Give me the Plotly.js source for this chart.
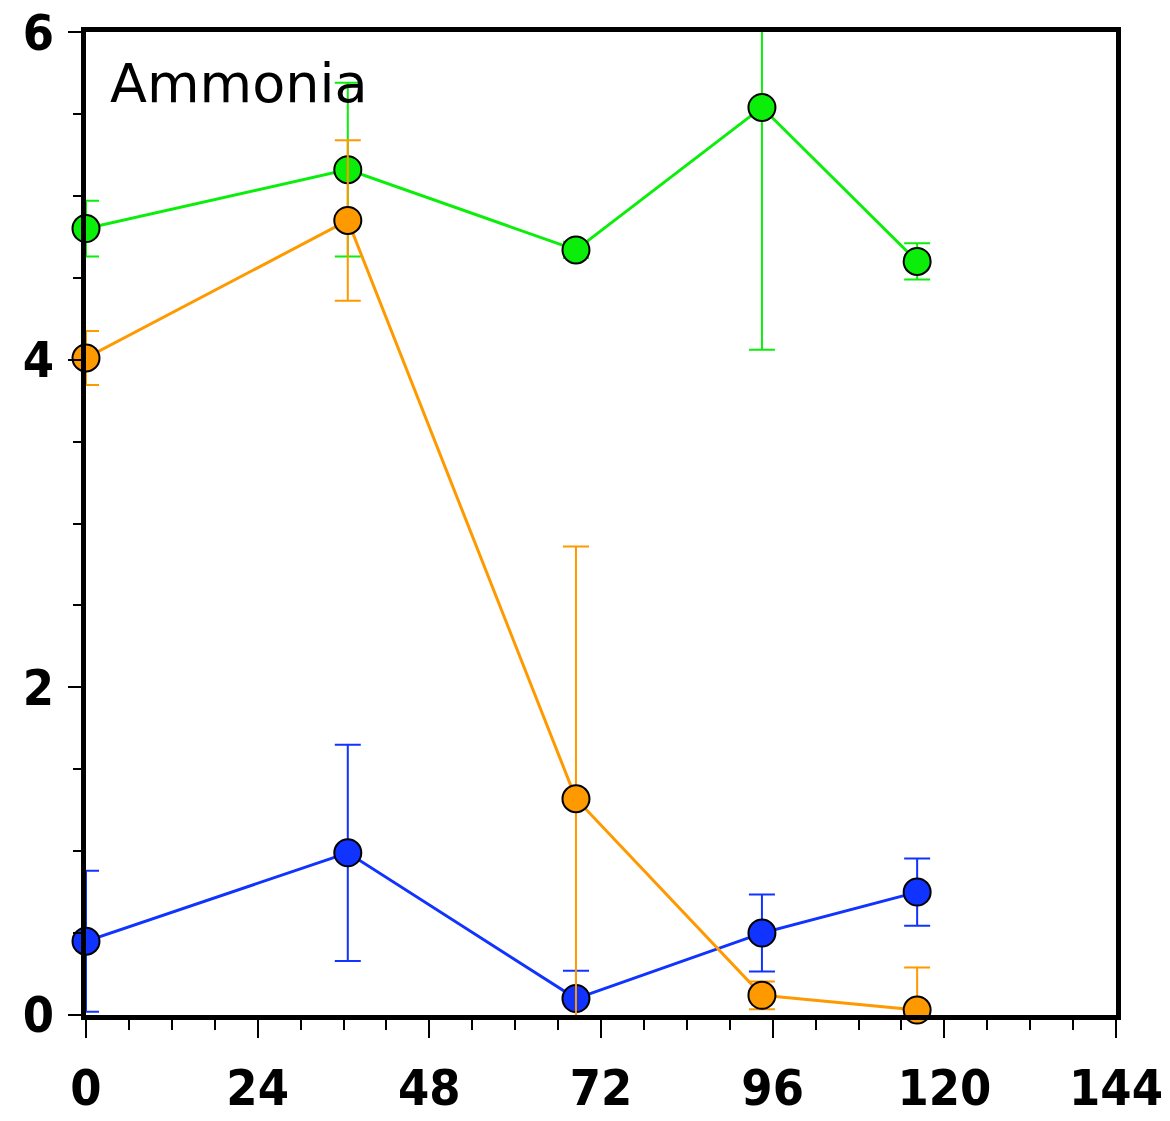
<!DOCTYPE html>
<html>
<head>
<meta charset="utf-8">
<script src="https://cdn.plot.ly/plotly-3.0.1.min.js"></script>
<style>html,body{margin:0;padding:0;background:#fff;}#chart{width:1170px;height:1121px;}</style>
</head>
<body>
<div id="chart"></div>
<script>
// Sampling times (hours)
const times = [0, 36.6, 68.5, 94.5, 116.2];

// Series values and symmetric errors
const greenValues = [4.80, 5.16, 4.67, 5.54, 4.60];
const greenErrors = [0.17, 0.53, 0.05, 1.48, 0.11];

const orangeValues = [4.01, 4.85, 1.32, 0.12, 0.03];
const orangeErrors = [0.165, 0.49, 1.54, 0.085, 0.26];

const blueValues = [0.45, 0.99, 0.10, 0.50, 0.75];
const blueErrors = [0.43, 0.66, 0.17, 0.235, 0.205];

const xTickValues = [0, 24, 48, 72, 96, 120, 144];
const yTickValues = [0, 2, 4, 6];
const panelLabel = "Ammonia";

function series(y, err, color) {
  return {
    x: times, y: y, type: 'scatter', mode: 'lines+markers',
    cliponaxis: false,
    line: {color: color, width: 3},
    marker: {size: 27, color: color, line: {color: '#000', width: 2}},
    error_y: {type: 'data', array: err, visible: true, color: color, thickness: 2, width: 13},
    showlegend: false, hoverinfo: 'x+y'
  };
}

const data = [
  series(greenValues, greenErrors, '#0aee0a'),
  series(blueValues, blueErrors, '#1133ff'),
  series(orangeValues, orangeErrors, '#ff9900')
];

const tickFont = {family: '"DejaVu Sans Condensed", "Liberation Sans Narrow", sans-serif', size: 50, weight: 'bold', color: '#000'};

const layout = {
  width: 1170, height: 1121,
  margin: {l: 86, r: 54, t: 32, b: 106},
  paper_bgcolor: '#fff', plot_bgcolor: '#fff',
  xaxis: {
    range: [0, 144], tickvals: xTickValues, ticktext: xTickValues.map(String),
    showgrid: false, zeroline: false,
    showline: true, linecolor: '#000', linewidth: 5, mirror: true,
    ticks: 'outside', ticklen: 18, tickwidth: 2, tickcolor: '#000',
    ticklabelstandoff: 7,
    minor: {dtick: 6, tick0: 0, ticks: 'outside', ticklen: 10, tickwidth: 2, tickcolor: '#000', showgrid: false},
    tickfont: tickFont
  },
  yaxis: {
    range: [-0.0001, 6.0001], tickvals: yTickValues, ticktext: yTickValues.map(String),
    showgrid: false, zeroline: false,
    showline: true, linecolor: '#000', linewidth: 5, mirror: true,
    ticks: 'outside', ticklen: 13, tickwidth: 2, tickcolor: '#000',
    ticklabelstandoff: 4,
    minor: {dtick: 0.5, tick0: 0, ticks: 'outside', ticklen: 8, tickwidth: 2, tickcolor: '#000', showgrid: false},
    tickfont: tickFont
  },
  annotations: [{
    text: panelLabel, xref: 'paper', yref: 'paper', x: 0.021, y: 0.948,
    xanchor: 'left', yanchor: 'middle', showarrow: false,
    font: {family: '"DejaVu Sans", sans-serif', size: 54, color: '#000'}
  }]
};

Plotly.newPlot('chart', data, layout, {displayModeBar: false, staticPlot: true});
</script>
</body>
</html>
